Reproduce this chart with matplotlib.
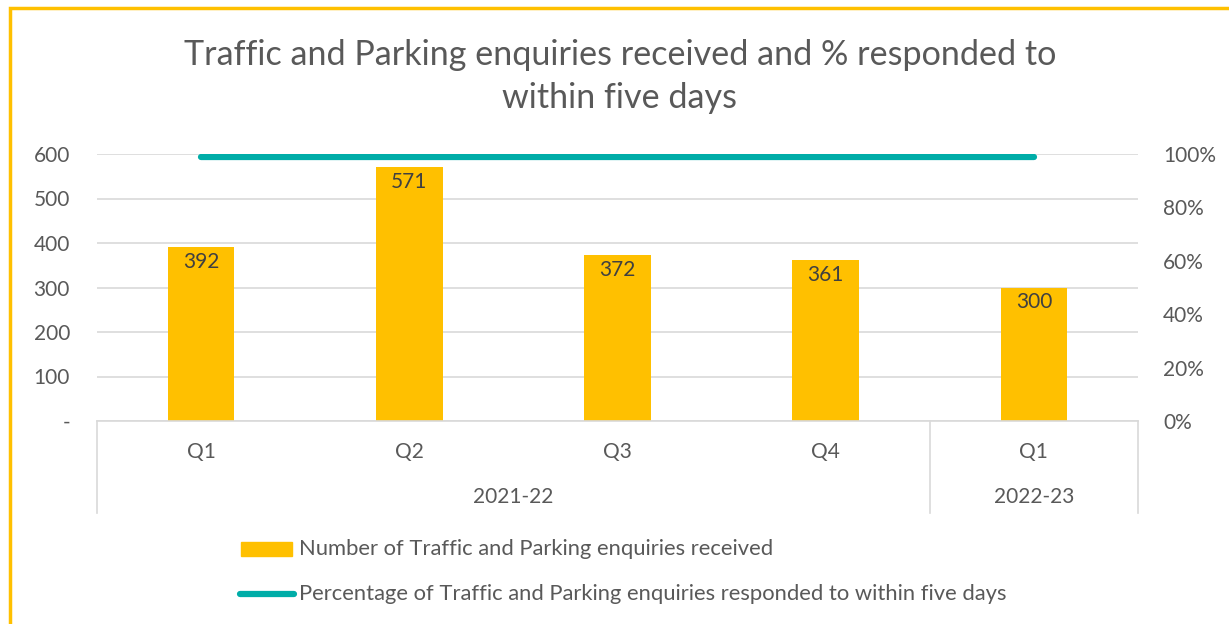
import matplotlib
matplotlib.use("Agg")
import matplotlib.pyplot as plt
from matplotlib.patches import Rectangle
from matplotlib.lines import Line2D
from matplotlib.ticker import FixedLocator, FuncFormatter

quarters = ["Q1", "Q2", "Q3", "Q4", "Q1"]
years = ["2021-22", "2021-22", "2021-22", "2021-22", "2022-23"]
enquiries = [392, 571, 372, 361, 300]
pct_responded = [0.99, 0.99, 0.99, 0.99, 0.99]
left_ticks = [0, 100, 200, 300, 400, 500, 600]
right_ticks = [0, 0.2, 0.4, 0.6, 0.8, 1.0]
title_lines = ["Traffic and Parking enquiries received and % responded to", "within five days"]
bar_label = "Number of Traffic and Parking enquiries received"
line_label = "Percentage of Traffic and Parking enquiries responded to within five days"

plt.rcParams['font.family'] = ['Lato', 'DejaVu Sans']
TXT = "#595959"
BAR = "#FFC000"
LINE = "#00ADA8"
GRID = "#D9D9D9"
FS = 15

W, H = 1229, 624
fig = plt.figure(figsize=(W / 100, H / 100), dpi=100)

def fx(px):
    return px / W

def fy(py):
    return 1 - py / H

# border
fig.patches.append(Rectangle((fx(10), fy(640)), fx(1240) - fx(10), fy(8) - fy(640),
                             transform=fig.transFigure, fill=False, edgecolor=BAR,
                             linewidth=2.5, zorder=0))

ax_l, ax_r, ax_t, ax_b = 97, 1138, 154, 421
ax = fig.add_axes([fx(ax_l), fy(ax_b), fx(ax_r) - fx(ax_l), fy(ax_t) - fy(ax_b)])
x = list(range(len(quarters)))
ax.bar(x, enquiries, width=0.32, color=BAR, zorder=2)
ax.set_xlim(-0.5, len(quarters) - 0.5)
ax.set_ylim(0, 600)
ax.yaxis.set_major_locator(FixedLocator(left_ticks))
ax.yaxis.set_major_formatter(FuncFormatter(lambda v, p: "-" if v == 0 else f"{int(v)}"))
ax.grid(axis='y', color=GRID, linewidth=1.2, zorder=0)
ax.set_axisbelow(True)
for s in ["top", "right", "left"]:
    ax.spines[s].set_visible(False)
ax.spines["bottom"].set_color(GRID)
ax.spines["bottom"].set_linewidth(1.2)
ax.tick_params(axis='y', length=0, pad=19.5, labelsize=FS, labelcolor=TXT)
ax.set_xticks([])

for xi, v in zip(x, enquiries):
    ax.annotate(f"{v}", (xi, v), xytext=(0, -15), textcoords="offset pixels",
                ha="center", va="center", fontsize=FS, color="#404040", zorder=4)

ax2 = ax.twinx()
ax2.plot(x, pct_responded, color=LINE, linewidth=4.5, solid_capstyle="round", zorder=5)
ax2.set_ylim(0, 1)
ax2.yaxis.set_major_locator(FixedLocator(right_ticks))
ax2.yaxis.set_major_formatter(FuncFormatter(lambda v, p: f"{v*100:.0f}%"))
for s in ["top", "right", "left", "bottom"]:
    ax2.spines[s].set_visible(False)
ax2.tick_params(axis='y', length=0, pad=18, labelsize=FS, labelcolor=TXT)

# multi-level category axis
trans = ax.get_xaxis_transform()
ax_h = ax_b - ax_t
def ay(py):
    return (ax_b - py) / ax_h

for xi, q in zip(x, quarters):
    ax.text(xi, ay(452), q, transform=trans, ha="center", va="center", fontsize=FS, color=TXT)

groups = []
for i, yv in enumerate(years):
    if groups and groups[-1][0] == yv:
        groups[-1][2] = i
    else:
        groups.append([yv, i, i])
bounds = [-0.5]
for g, s, e in groups:
    ax.text((s + e) / 2, ay(497), g, transform=trans, ha="center", va="center",
            fontsize=FS, color=TXT)
    bounds.append(e + 0.5)
for b in bounds:
    ax.add_line(Line2D([b, b], [0, ay(513)], transform=trans, color=GRID,
                       linewidth=1.2, clip_on=False))

for ty, line in zip([55, 98], title_lines):
    fig.text(fx(620), fy(ty), line, ha="center", va="center", fontsize=24.6, color=TXT)

# legend
fig.patches.append(Rectangle((fx(241), fy(556)), fx(292) - fx(241), fy(542) - fy(556),
                             transform=fig.transFigure, color=BAR))
fig.text(fx(299), fy(549), bar_label, ha="left", va="center", fontsize=15.8, color=TXT)
fig.lines.append(Line2D([fx(240), fx(294)], [fy(594), fy(594)], transform=fig.transFigure,
                        color=LINE, linewidth=4.5, solid_capstyle="round"))
fig.text(fx(299), fy(594), line_label, ha="left", va="center", fontsize=15.8, color=TXT)

fig.savefig("out.png", dpi=100)
